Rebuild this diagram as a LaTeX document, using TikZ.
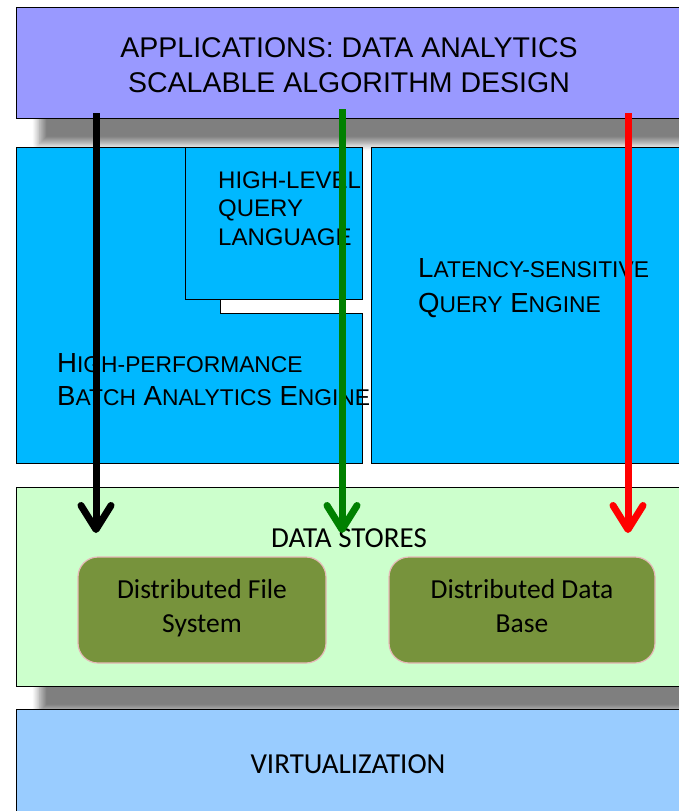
\documentclass[tikz,border=0pt]{standalone}
\usepackage{fontspec}
\setmainfont{Liberation Sans}
\newfontfamily\calibri{Carlito}
\usetikzlibrary{arrows.meta,shadows.blur}

\definecolor{appsblue}{RGB}{153,153,255}
\definecolor{engineblue}{RGB}{0,184,255}
\definecolor{storegreen}{RGB}{204,255,204}
\definecolor{olivebox}{RGB}{119,147,60}
\definecolor{pinkline}{RGB}{230,185,184}
\definecolor{virtblue}{RGB}{153,204,255}
\definecolor{flowgreen}{RGB}{0,128,0}

% big first letter, smaller rest
\newcommand{\capsc}[2]{{\fontsize{27.6}{33}\selectfont #1}{\fontsize{22.8}{33}\selectfont #2}}

\begin{document}
\begin{tikzpicture}[x=1pt,y=-1pt,
    layer/.style={draw=black, line width=1.2pt, rectangle, inner sep=0pt},
    shadowed/.style={blur shadow={shadow xshift=23pt, shadow yshift=-25pt,
        shadow opacity=50, shadow blur radius=7pt, shadow blur steps=12}},
    engine/.style={draw=black, line width=1pt, fill=engineblue},
    lbl/.style={inner sep=0pt, align=left},
    store/.style={draw=pinkline, line width=1.2pt, fill=olivebox, rounded corners=20pt,
        minimum height=106pt},
    storetext/.style={inner sep=0pt, align=center, font=\calibri\fontsize{27.5}{34}\selectfont},
    flow/.style={line width=7pt, -{Straight Barb[length=24pt, width=30pt, line cap=round, line join=round]}}
  ]
  \useasboundingbox (0,0) rectangle (679,811);
  \clip (0,0) rectangle (679,811);

  % applications
  \node[layer, fill=appsblue, shadowed, anchor=north west, minimum width=667pt,
    minimum height=111pt] (apps) at (16,7) {};
  \node[lbl, align=center, anchor=base, font=\fontsize{28.5}{35}\selectfont]
    (appslbl) at (349,92) {APPLICATIONS: DATA ANALYTICS\\SCALABLE ALGORITHM DESIGN};

  % engines
  \draw[engine] (16,147) -- (220,147) -- (220,313) -- (362,313) -- (362,463) -- (16,463) -- cycle;
  \draw[engine] (185,147) rectangle (362,299);
  \draw[engine] (371,147) rectangle (690,463);
  \node[lbl, anchor=base west, font=\fontsize{24}{28.5}\selectfont] (hlql) at (218,245)
    {HIGH-LEVEL\\QUERY\\LANGUAGE};
  \node[lbl, anchor=base west, font=\fontsize{27.6}{33}\selectfont] (batch) at (57,405)
    {\capsc{H}{IGH-PERFORMANCE}\\\capsc{B}{ATCH} \capsc{A}{NALYTICS} \capsc{E}{NGINE}};
  \node[lbl, anchor=base west, font=\fontsize{27.6}{34.5}\selectfont] (latency) at (418,312)
    {\capsc{L}{ATENCY-SENSITIVE}\\\capsc{Q}{UERY} \capsc{E}{NGINE}};

  % data stores
  \node[layer, fill=storegreen, shadowed, anchor=north west, minimum width=667pt,
    minimum height=199pt] (stores) at (16,487) {};
  \node[inner sep=0pt, anchor=base, font=\calibri\fontsize{29}{34}\selectfont]
    (storeslbl) at (349,547) {DATA STORES};
  \node[store, minimum width=248pt] (dfs) at (202,610) {};
  \node[store, minimum width=266pt] (ddb) at (522,610) {};
  \node[storetext, anchor=base] (dfslbl) at (202,632) {Distributed File\\System};
  \node[storetext, anchor=base] (ddblbl) at (522,632) {Distributed Data\\Base};

  % virtualization
  \node[layer, fill=virtblue, anchor=north west, minimum width=667pt,
    minimum height=120pt] (virt) at (16,709) {};
  \node[inner sep=0pt, anchor=base, font=\calibri\fontsize{29}{34}\selectfont]
    (virtlbl) at (348,773) {VIRTUALIZATION};

  % flows
  \foreach \name/\x/\y/\col in {batchflow/96/113/black, hlqlflow/342/109/flowgreen, fastflow/628/113/red}{
    \coordinate (\name-from) at (\x,\y);
    \coordinate (\name-to) at (\x,533);
    \draw[flow, draw=\col] (\name-from) -- (\name-to);
  }
\end{tikzpicture}
\end{document}
